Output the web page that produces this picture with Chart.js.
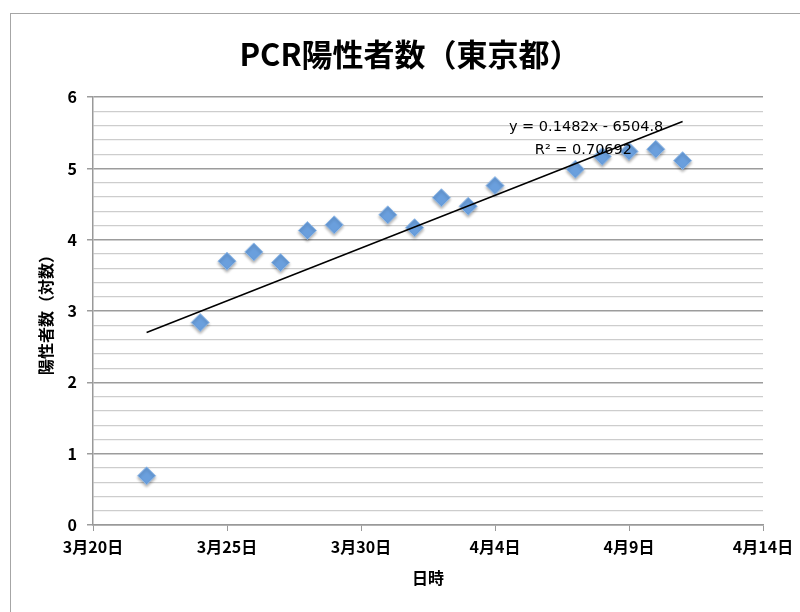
<!DOCTYPE html>
<html>
<head>
<meta charset="utf-8">
<script src="https://cdn.jsdelivr.net/npm/chart.js@4"></script>
<style>
	body { margin: 0; background: #fff; }
	#wrap { position: relative; width: 800px; height: 612px; overflow: hidden; }
	#frame { position: absolute; left: 10px; top: 13px; width: 900px; height: 700px; border: 1.5px solid #a6a6a6; }
	canvas { position: absolute; left: 0; top: 0; }
</style>
</head>
<body>
<div id="wrap">
	<div id="frame"></div>
	<canvas id="chart" width="800" height="612"></canvas>
</div>
<script>
// dates (days counted from 3月20日) and log of positive cases
const dates = ['3/22', '3/24', '3/25', '3/26', '3/27', '3/28', '3/29', '3/31', '4/1', '4/2', '4/3', '4/4', '4/7', '4/8', '4/9', '4/10', '4/11']
const logCases = [0.69, 2.84, 3.70, 3.83, 3.68, 4.13, 4.21, 4.35, 4.17, 4.59, 4.47, 4.76, 4.99, 5.17, 5.24, 5.27, 5.11]

// trendline end points as drawn
const trendDates = ['3/22', '4/11']
const trendValues = [2.70, 5.66]

const trendText = ['y = 0.1482x - 6504.8', 'R² = 0.70692']
const trendTextDays = [18.4, 18.3]
const trendTextValues = [5.58, 5.25]

const xTicks = ['3/20', '3/25', '3/30', '4/4', '4/9', '4/14']

const startDay = Date.UTC(2020, 2, 20)
function dayOf(s) {
	const [m, d] = s.split('/').map(Number)
	return Math.round((Date.UTC(2020, m - 1, d) - startDay) / 86400000)
}
function labelOf(n) {
	const dt = new Date(startDay + n * 86400000)
	return `${dt.getUTCMonth() + 1}月${dt.getUTCDate()}日`
}

const font = "'Noto Sans CJK JP', 'Noto Sans', sans-serif"
const isMajor = v => Math.abs(v - Math.round(v)) < 1e-6

const points = dates.map((d, i) => ({x: dayOf(d), y: logCases[i]}))
const trend = trendDates.map((d, i) => ({x: dayOf(d), y: trendValues[i]}))

const shadowPlugin = {
	id: 'shadow',
	beforeDatasetDraw(chart, args) {
		if (args.index !== 1) return
		const ctx = chart.ctx
		ctx.save()
		ctx.shadowColor = 'rgba(0,0,0,0.3)'
		ctx.shadowBlur = 3
		ctx.shadowOffsetY = 2
	},
	afterDatasetDraw(chart, args) {
		if (args.index !== 1) return
		chart.ctx.restore()
	}
}

const eqPlugin = {
	id: 'equation',
	afterDatasetsDraw(chart) {
		const ctx = chart.ctx
		const x = chart.scales.x, y = chart.scales.y
		ctx.save()
		ctx.font = "14.5px 'DejaVu Sans', sans-serif"
		ctx.fillStyle = '#000'
		ctx.textAlign = 'center'
		ctx.textBaseline = 'middle'
		trendText.forEach((t, i) => {
			ctx.fillText(t, x.getPixelForValue(trendTextDays[i]), y.getPixelForValue(trendTextValues[i]))
		})
		ctx.restore()
	}
}

new Chart(document.getElementById('chart'), {
	type: 'scatter',
	data: {
		datasets: [{
			type: 'line',
			data: trend,
			borderColor: '#000',
			borderWidth: 1.5,
			pointRadius: 0,
			fill: false
		}, {
			data: points,
			pointStyle: 'rectRot',
			pointRadius: 9,
			pointHoverRadius: 9,
			backgroundColor: '#6a9fdd',
			borderColor: '#93bbe8',
			borderWidth: 1
		}]
	},
	plugins: [shadowPlugin, eqPlugin],
	options: {
		responsive: false,
		animation: false,
		// left padding shifts the title centre; the y axis box is narrowed to match
		layout: {padding: {left: 57, right: 37, top: 0, bottom: 0}},
		plugins: {
			legend: {display: false},
			tooltip: {enabled: false},
			title: {
				display: true,
				text: 'PCR陽性者数（東京都）',
				color: '#000',
				font: {family: font, size: 31, weight: 'bold', lineHeight: 1.2},
				padding: {top: 36, bottom: 24}
			}
		},
		scales: {
			x: {
				type: 'linear',
				min: 0,
				max: 25,
				afterBuildTicks(scale) {
					scale.ticks = xTicks.map(s => ({value: dayOf(s)}))
				},
				afterFit(scale) { scale.height = 87 },
				ticks: {
					callback: v => labelOf(v),
					color: '#000',
					font: {family: font, size: 16, weight: 'bold'},
					padding: 6,
					maxRotation: 0
				},
				grid: {drawOnChartArea: false, tickLength: 6, color: '#999', tickColor: '#999'},
				border: {color: '#999', width: 1.5},
				title: {
					display: true,
					text: '日時',
					color: '#000',
					font: {family: font, size: 16, weight: 'bold', lineHeight: 1.2},
					padding: {bottom: 24}
				}
			},
			y: {
				min: 0,
				max: 6,
				afterFit(scale) { scale.width = 36 },
				ticks: {
					stepSize: 0.2,
					autoSkip: false,
					callback: v => isMajor(v) ? Math.round(v) : '',
					color: '#000',
					font: {family: font, size: 16, weight: 'bold'},
					padding: 10
				},
				grid: {
					tickLength: 6,
					color: ctx => isMajor(ctx.tick.value) ? '#9c9c9c' : '#cdcdcd',
					lineWidth: ctx => isMajor(ctx.tick.value) ? 1.5 : 1.2,
					tickColor: ctx => isMajor(ctx.tick.value) ? '#9c9c9c' : 'rgba(0,0,0,0)'
				},
				border: {color: '#999', width: 1.5},
				title: {
					display: true,
					text: '陽性者数（対数）',
					color: '#000',
					font: {family: font, size: 16, weight: 'bold', lineHeight: 1.2},
					padding: {top: -21}
				}
			}
		}
	}
})
</script>
</body>
</html>
